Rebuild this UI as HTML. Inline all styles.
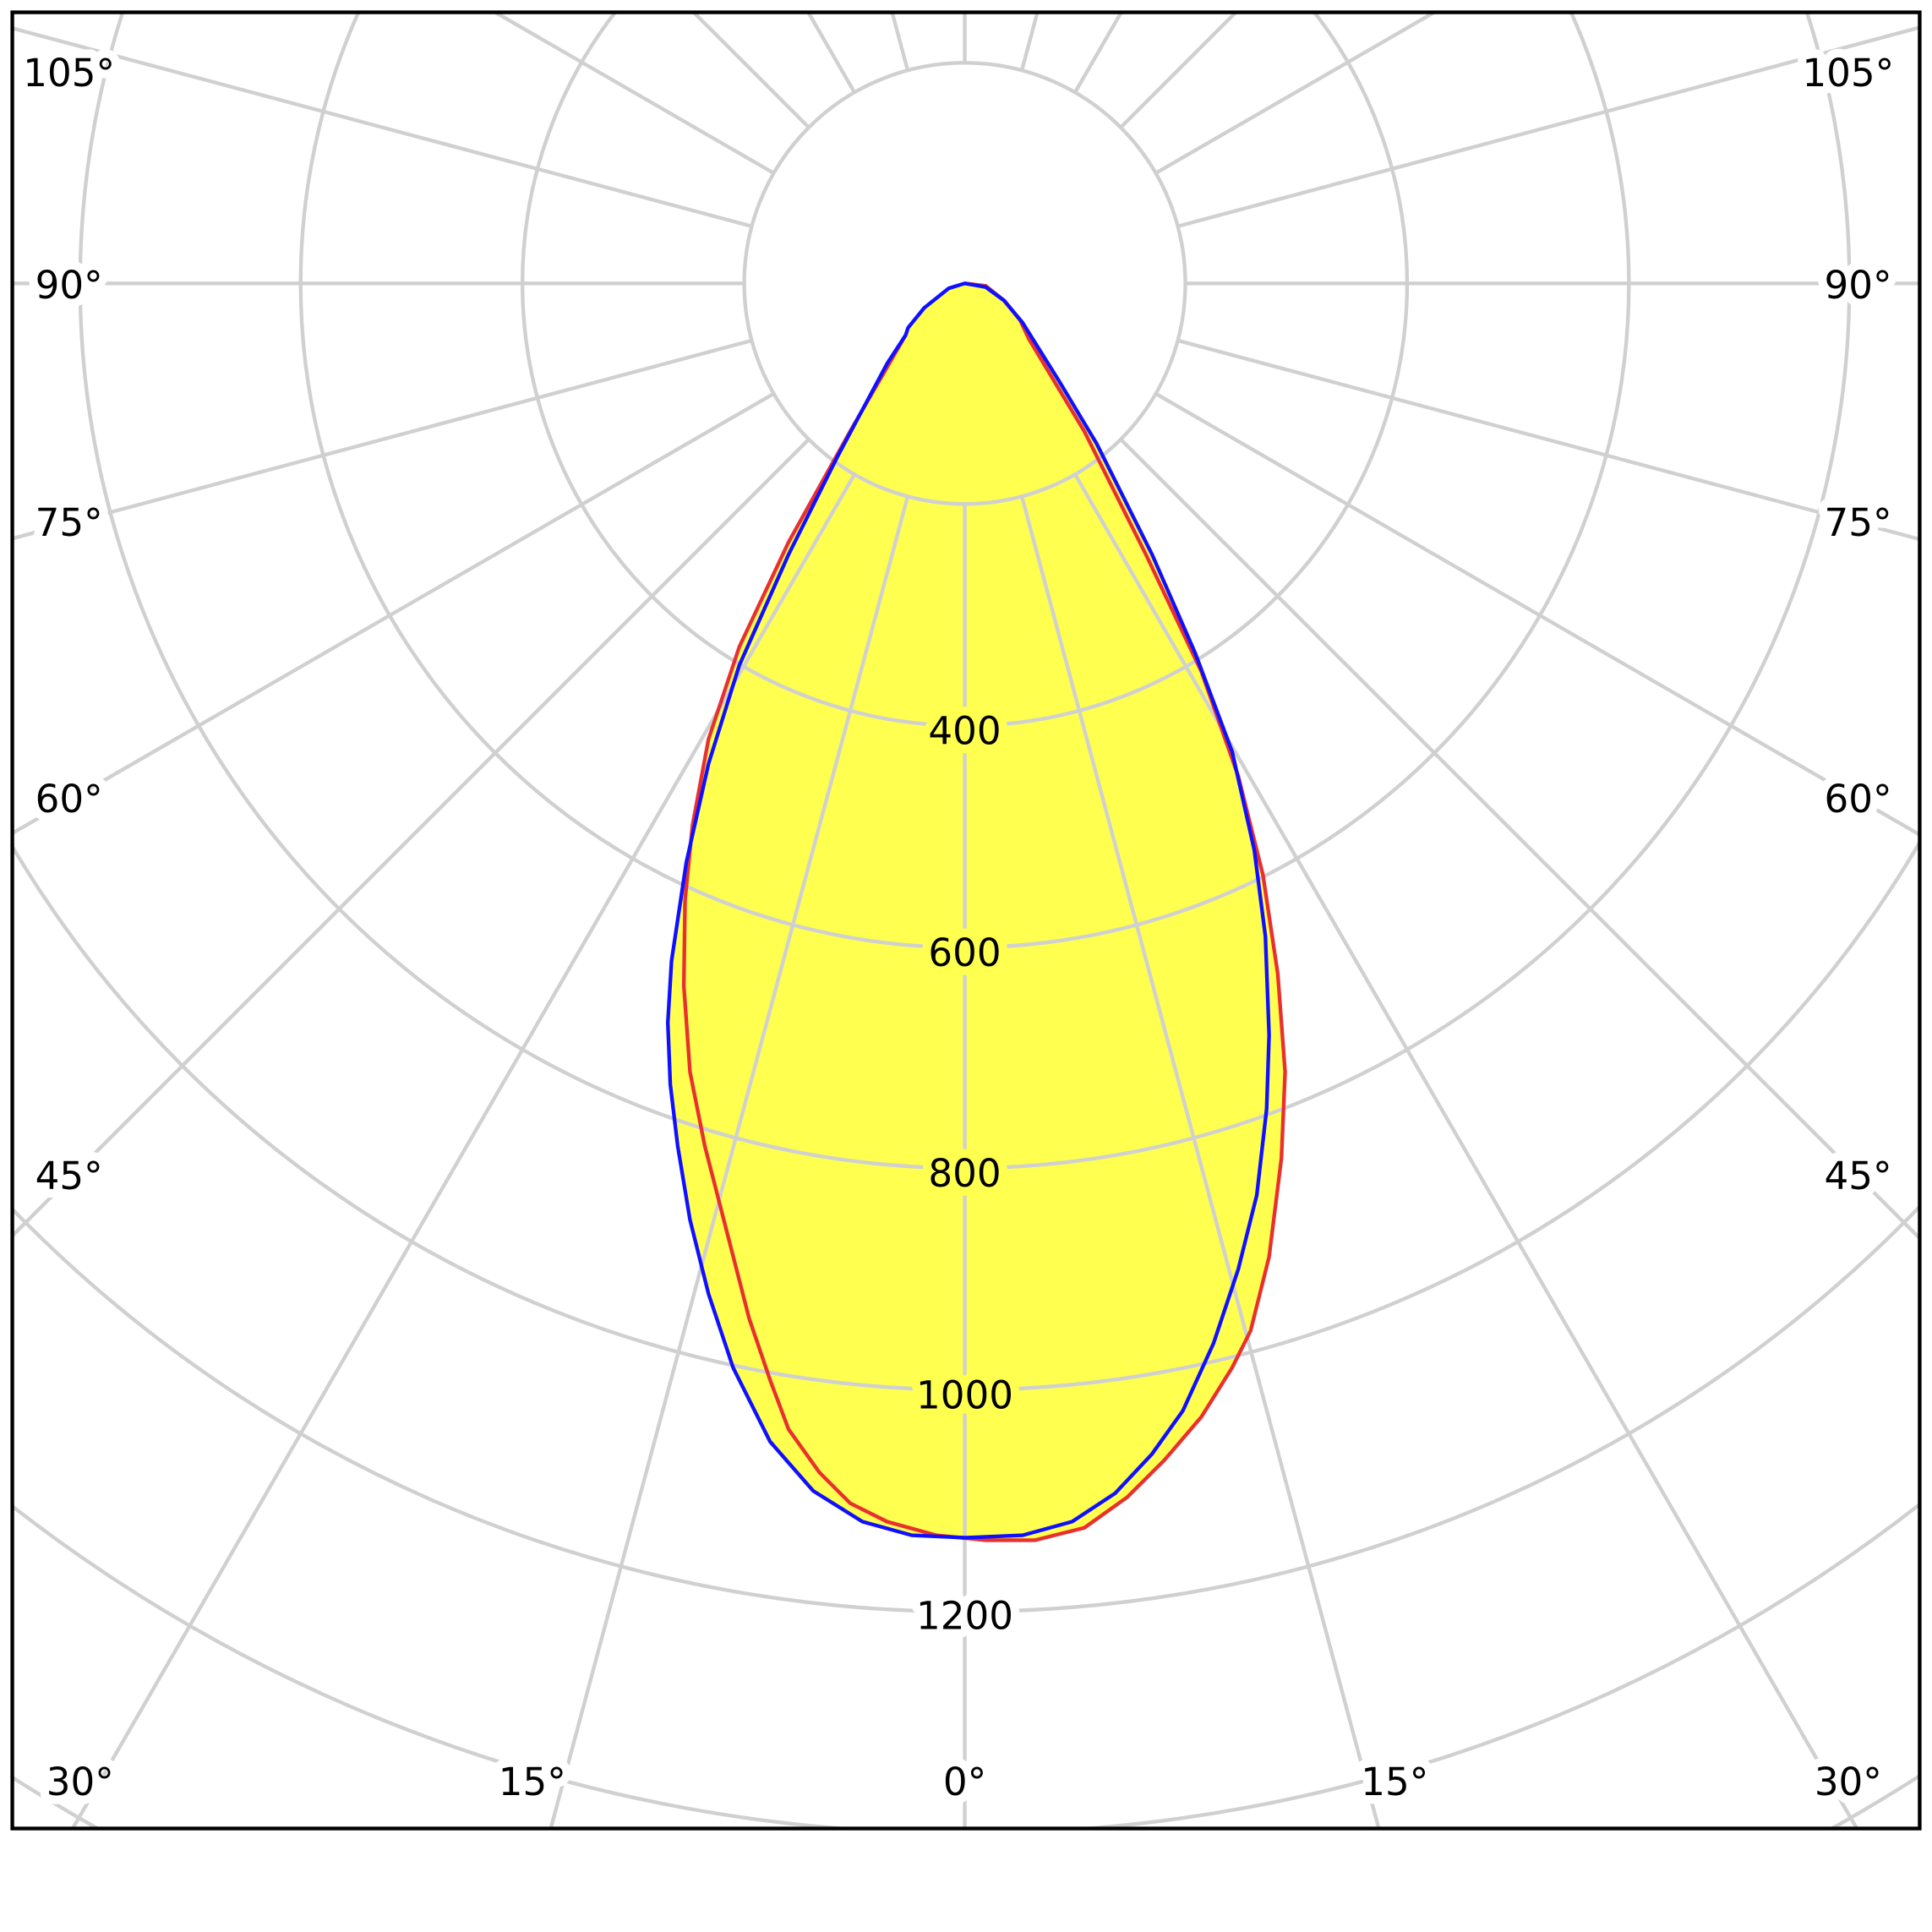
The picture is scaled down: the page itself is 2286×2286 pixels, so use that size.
<!DOCTYPE html>
<html><head><meta charset="utf-8"><style>
html,body{margin:0;padding:0;background:#fff;width:2286px;height:2286px;overflow:hidden;}
svg{display:block;}
text{font-family:"DejaVu Sans","Liberation Sans",sans-serif;font-size:31px;fill:#000;}
</style></head><body>
<svg width="2286" height="2286" viewBox="0 0 1568 1568" xmlns="http://www.w3.org/2000/svg">
<defs><clipPath id="c"><rect x="10" y="10" width="1548" height="1474"/></clipPath></defs>
<rect width="1568" height="1568" fill="#fff"/>
<g clip-path="url(#c)">
<path d="M783,230 L800,232 815,244 828,260 835,275 880,350 930,450 975,545 1005,630 1025,710 1037,790 1043,870 1040,940 1030,1020 1015,1080 1000,1110 975,1150 945,1185 915,1215 880,1240 840,1250 800,1250 760,1246 720,1235 690,1220 665,1195 640,1160 625,1120 608,1070 590,1000 572,930 560,870 555,800 556,730 562,670 575,600 600,525 640,440 690,350 735,272 750,250 770,234 Z" fill="#ffff50"/>
<path d="M783,230 L770,234 750,250 737,266 735,272 720,295 680,370 640,450 600,540 575,620 557,700 545,780 542,830 544,880 550,930 560,990 575,1050 595,1110 625,1170 660,1210 700,1235 740,1246 783,1248 830,1246 870,1235 905,1212 935,1180 960,1145 985,1090 1005,1030 1020,970 1028,900 1030,840 1027,760 1018,690 1000,610 970,530 935,450 890,360 860,310 835,270 830,262 815,244 800,233 Z" fill="#ffff50"/>
<g fill="none" stroke="#d0d0d0" stroke-width="3" transform="translate(783,230)">
<circle r="179"/><circle r="359"/><circle r="539"/><circle r="718"/><circle r="898"/><circle r="1078"/><circle r="1258"/><circle r="1438"/><circle r="1618"/>
<g>
<line x1="0" y1="179" x2="0" y2="2600"/>
<line x1="0" y1="179" x2="0" y2="2600" transform="rotate(15)"/>
<line x1="0" y1="179" x2="0" y2="2600" transform="rotate(-15)"/>
<line x1="0" y1="179" x2="0" y2="2600" transform="rotate(30)"/>
<line x1="0" y1="179" x2="0" y2="2600" transform="rotate(-30)"/>
<line x1="0" y1="179" x2="0" y2="2600" transform="rotate(45)"/>
<line x1="0" y1="179" x2="0" y2="2600" transform="rotate(-45)"/>
<line x1="0" y1="179" x2="0" y2="2600" transform="rotate(60)"/>
<line x1="0" y1="179" x2="0" y2="2600" transform="rotate(-60)"/>
<line x1="0" y1="179" x2="0" y2="2600" transform="rotate(75)"/>
<line x1="0" y1="179" x2="0" y2="2600" transform="rotate(-75)"/>
<line x1="0" y1="179" x2="0" y2="2600" transform="rotate(90)"/>
<line x1="0" y1="179" x2="0" y2="2600" transform="rotate(-90)"/>
<line x1="0" y1="179" x2="0" y2="2600" transform="rotate(105)"/>
<line x1="0" y1="179" x2="0" y2="2600" transform="rotate(-105)"/>
<line x1="0" y1="179" x2="0" y2="2600" transform="rotate(120)"/>
<line x1="0" y1="179" x2="0" y2="2600" transform="rotate(-120)"/>
<line x1="0" y1="179" x2="0" y2="2600" transform="rotate(135)"/>
<line x1="0" y1="179" x2="0" y2="2600" transform="rotate(-135)"/>
<line x1="0" y1="179" x2="0" y2="2600" transform="rotate(150)"/>
<line x1="0" y1="179" x2="0" y2="2600" transform="rotate(-150)"/>
<line x1="0" y1="179" x2="0" y2="2600" transform="rotate(165)"/>
<line x1="0" y1="179" x2="0" y2="2600" transform="rotate(-165)"/>
<line x1="0" y1="179" x2="0" y2="2600" transform="rotate(180)"/>
</g></g>
<path d="M783,230 L800,232 815,244 828,260 835,275 880,350 930,450 975,545 1005,630 1025,710 1037,790 1043,870 1040,940 1030,1020 1015,1080 1000,1110 975,1150 945,1185 915,1215 880,1240 840,1250 800,1250 760,1246 720,1235 690,1220 665,1195 640,1160 625,1120 608,1070 590,1000 572,930 560,870 555,800 556,730 562,670 575,600 600,525 640,440 690,350 735,272" fill="none" stroke="#e83030" stroke-width="3"/>
<path d="M783,230 L770,234 750,250 737,266 735,272 720,295 680,370 640,450 600,540 575,620 557,700 545,780 542,830 544,880 550,930 560,990 575,1050 595,1110 625,1170 660,1210 700,1235 740,1246 783,1248 830,1246 870,1235 905,1212 935,1180 960,1145 985,1090 1005,1030 1020,970 1028,900 1030,840 1027,760 1018,690 1000,610 970,530 935,450 890,360 860,310 835,270 830,262 815,244 800,233 Z" fill="none" stroke="#1010ff" stroke-width="3"/>
<g text-anchor="middle" style="paint-order:stroke" stroke-width="14" stroke-linejoin="round">
<text x="783" y="604" stroke="#ffff50">400</text>
<text x="783" y="784" stroke="#ffff50">600</text>
<text x="783" y="963" stroke="#ffff50">800</text>
<text x="783" y="1143" stroke="#ffff50">1000</text>
<text x="783" y="1322" stroke="#fff">1200</text>
<g stroke="#fff">
<text x="65" y="1457">30°</text><text x="432" y="1457">15°</text><text x="783" y="1457">0°</text><text x="1132" y="1457">15°</text><text x="1500" y="1457">30°</text>
<text x="56" y="70">105°</text><text x="56" y="242">90°</text><text x="56" y="435">75°</text><text x="56" y="659">60°</text><text x="56" y="965">45°</text>
<text x="1500" y="70">105°</text><text x="1508" y="242">90°</text><text x="1508" y="435">75°</text><text x="1508" y="659">60°</text><text x="1508" y="965">45°</text>
</g></g>
</g>
<rect x="10" y="10" width="1548" height="1474" fill="none" stroke="#000" stroke-width="3"/>
</svg>
</body></html>
